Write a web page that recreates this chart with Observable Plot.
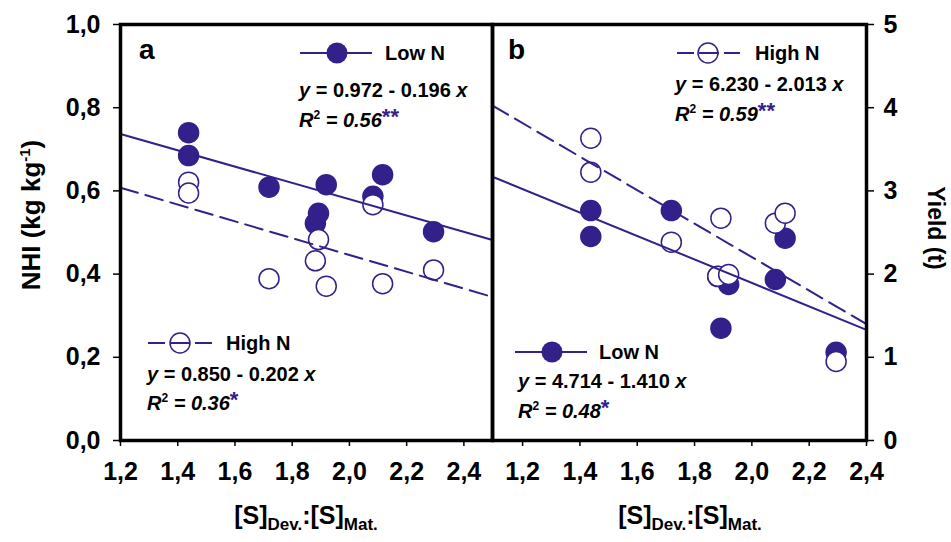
<!DOCTYPE html>
<html><head><meta charset="utf-8">
<script src="https://cdn.jsdelivr.net/npm/d3@7"></script>
<script src="https://cdn.jsdelivr.net/npm/@observablehq/plot@0.6"></script>
<style>
body{margin:0;background:#fff;}
#chart{position:relative;width:951px;height:542px;font-family:"Liberation Sans",Arial,sans-serif;}
#chart svg{position:absolute;top:0;overflow:visible;}
</style></head><body><div id="chart"></div>
<script>
// ---- data ----
const ratioX     = [1.438, 1.438, 1.719, 1.881, 1.892, 1.919, 2.082, 2.116, 2.294]; // [S]Dev.:[S]Mat.
const nhiLowN    = [0.740, 0.685, 0.609, 0.522, 0.546, 0.615, 0.587, 0.639, 0.502];
const nhiHighN   = [0.621, 0.595, 0.389, 0.432, 0.483, 0.371, 0.567, 0.377, 0.410];
const yieldLowN  = [2.764, 2.452, 2.764, 1.970, 1.350, 1.875, 1.935, 2.432, 1.060];
const yieldHighN = [3.633, 3.225, 2.384, 1.975, 2.672, 1.995, 2.612, 2.732, 0.950];
const nhiFitLowN    = [0.972, -0.196];
const nhiFitHighN   = [0.850, -0.202];
const yieldFitLowN  = [4.714, -1.410];
const yieldFitHighN = [6.230, -2.013];
const xTicks     = [1.2, 1.4, 1.6, 1.8, 2.0, 2.2, 2.4];
const nhiTicks   = [0, 0.2, 0.4, 0.6, 0.8, 1.0];
const yieldTicks = [0, 1, 2, 3, 4, 5];

const C = "#33208a";
const FONT = '"Liberation Sans", Arial, sans-serif';
const commaFmt = d => d.toFixed(1).replace(".", ",");

function panel({xDomain, yDomain, yTicks, yFmt, low, high, fitLow, fitHigh, width, marginLeft, marginRight, yAnchor, yPad}) {
  const pts = arr => ratioX.map((x, i) => ({x, y: arr[i]}));
  const fit = c => xDomain.map(x => ({x, y: c[0] + c[1] * x}));
  return Plot.plot({
    width, height: 542, marginTop: 24, marginBottom: 102, marginLeft, marginRight,
    x: {domain: xDomain},
    y: {domain: yDomain},
    style: {background: "transparent", color: "black", fontFamily: FONT, fontWeight: "bold", overflow: "visible"},
    marks: [
      Plot.dot(pts(low), {x: "x", y: "y", r: 10, fill: C, stroke: C}),
      Plot.dot(pts(high), {x: "x", y: "y", r: 10, fill: "white", stroke: C, strokeWidth: 1.5}),
      Plot.line(fit(fitLow), {x: "x", y: "y", stroke: C, strokeWidth: 2}),
      Plot.line(fit(fitHigh), {x: "x", y: "y", stroke: C, strokeWidth: 2, strokeDasharray: "18,8"}),
      Plot.axisX({ticks: xTicks, tickFormat: commaFmt, tickSize: 6, tickPadding: 16, fontSize: 25, fontWeight: "bold", strokeWidth: 1.5, label: null}),
      Plot.axisY({anchor: yAnchor, ticks: yTicks, tickFormat: yFmt, tickSize: 7, tickPadding: yPad, fontSize: 25, fontWeight: "bold", strokeWidth: 1.5, label: null}),
      Plot.frame({strokeWidth: 3.5})
    ]
  });
}

const chart = document.getElementById("chart");
const left = panel({xDomain: [1.2, 2.5], yDomain: [0, 1], yTicks: nhiTicks, yFmt: commaFmt,
  low: nhiLowN, high: nhiHighN, fitLow: nhiFitLowN, fitHigh: nhiFitHighN,
  width: 520, marginLeft: 120, marginRight: 28, yAnchor: "left", yPad: 13});
left.style.left = "0px";
const right = panel({xDomain: [1.095, 2.4], yDomain: [0, 5], yTicks: yieldTicks, yFmt: d => String(d),
  low: yieldLowN, high: yieldHighN, fitLow: yieldFitLowN, fitHigh: yieldFitHighN,
  width: 481, marginLeft: 22, marginRight: 85, yAnchor: "right", yPad: 10});
right.style.left = "470px";
chart.appendChild(left);
chart.appendChild(right);

// ---- annotation overlay (text, legends) ----
const ov = d3.select(chart).append("svg")
  .attr("width", 951).attr("height", 542)
  .style("left", "0px").style("pointer-events", "none")
  .attr("font-family", FONT).attr("font-weight", "bold").attr("fill", "black");

function rich(x, y, parts, opts = {}) {
  const t = ov.append("text").attr("x", x).attr("y", y).attr("font-size", opts.size || 20);
  if (opts.anchor) t.attr("text-anchor", opts.anchor);
  if (opts.transform) t.attr("transform", opts.transform);
  for (const p of parts) {
    const s = t.append("tspan").text(p.t);
    if (p.italic) s.attr("font-style", "italic");
    if (p.size) s.attr("font-size", p.size);
    if (p.dy) s.attr("dy", p.dy);
    if (p.fill) s.attr("fill", p.fill);
  }
  return t;
}
function legend(x0, x1, cy, cx, dashed, label, tx) {
  if (dashed) {
    ov.append("circle").attr("cx", cx).attr("cy", cy).attr("r", 10).attr("fill", "white").attr("stroke", C).attr("stroke-width", 1.5);
    ov.append("line").attr("x1", x0).attr("x2", x1).attr("y1", cy).attr("y2", cy)
      .attr("stroke", C).attr("stroke-width", 2).attr("stroke-dasharray", "17,5,20,5,17");
  } else {
    ov.append("line").attr("x1", x0).attr("x2", x1).attr("y1", cy).attr("y2", cy).attr("stroke", C).attr("stroke-width", 2);
    ov.append("circle").attr("cx", cx).attr("cy", cy).attr("r", 10.5).attr("fill", C);
  }
  rich(tx, cy + 7, [{t: label}]);
}
function eq(x, y, a, b) {
  rich(x, y, [{t: "y", italic: true}, {t: ` = ${a.toFixed(3)} - ${Math.abs(b).toFixed(3)} `}, {t: "x", italic: true}]);
}
function r2(x, y, v, stars) {
  rich(x, y, [{t: "R", italic: true}, {t: "2", size: 12, dy: -8}, {t: ` = ${v.toFixed(2)}`, italic: true, dy: 8},
              {t: stars, fill: C, size: 22, dy: -3}]);
}

// panel letters
rich(139, 59, [{t: "a"}], {size: 28});
rich(508, 59, [{t: "b"}], {size: 28});

// panel a
legend(300, 372, 53, 337, false, "Low N", 385);
eq(299, 97, nhiFitLowN[0], nhiFitLowN[1]);
r2(299, 127, 0.56, "**");
legend(148, 212, 343, 180, true, "High N", 226);
eq(147, 381, nhiFitHighN[0], nhiFitHighN[1]);
r2(147, 410, 0.36, "*");

// panel b
legend(677, 740, 53, 708, true, "High N", 755);
eq(675, 91, yieldFitHighN[0], yieldFitHighN[1]);
r2(675, 121, 0.59, "**");
legend(515, 587, 352, 552, false, "Low N", 599);
eq(518, 388, yieldFitLowN[0], yieldFitLowN[1]);
r2(518, 418, 0.48, "*");

// axis titles
rich(0, 0, [{t: "NHI (kg kg"}, {t: "-1", size: 15, dy: -10}, {t: ")", dy: 10}], {size: 26, anchor: "middle", transform: "translate(40,215) rotate(-90)"});
rich(0, 0, [{t: "Yield (t)"}], {size: 23, anchor: "middle", transform: "translate(928,228) rotate(90)"});
const xTitle = [{t: "[S]"}, {t: "Dev.", size: 17, dy: 6}, {t: ":[S]", dy: -6}, {t: "Mat.", size: 17, dy: 6}];
rich(306, 524, xTitle, {size: 25, anchor: "middle"});
rich(690, 524, xTitle, {size: 25, anchor: "middle"});
</script></body></html>
